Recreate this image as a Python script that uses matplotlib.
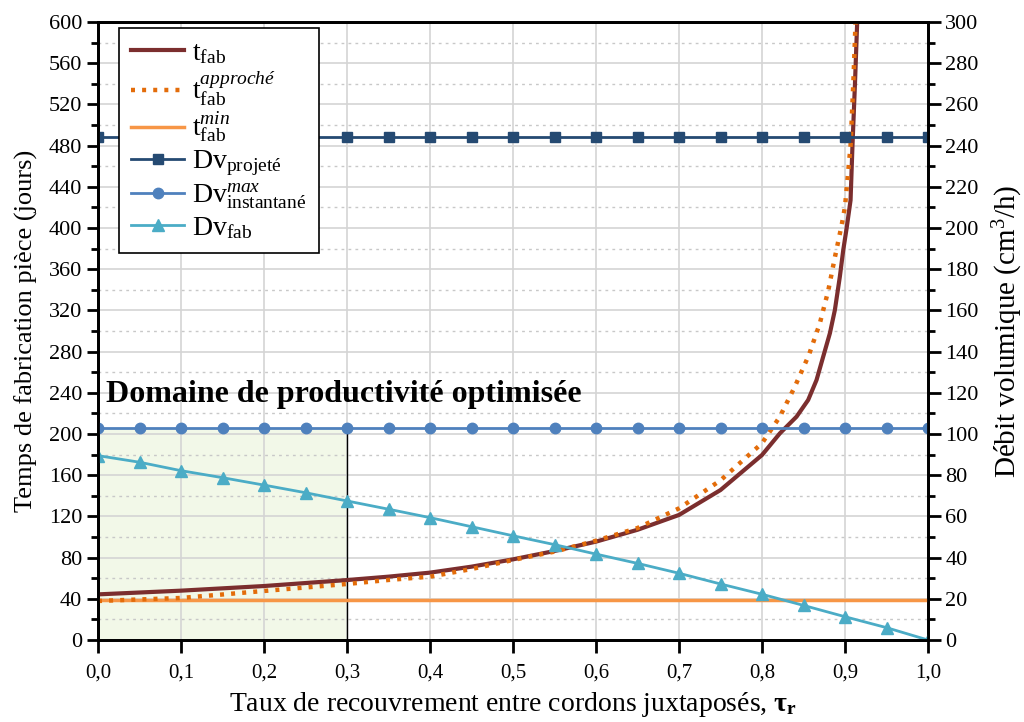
import matplotlib
matplotlib.use("Agg")
import matplotlib.pyplot as plt
from matplotlib.ticker import MultipleLocator, FuncFormatter
from matplotlib.patches import Rectangle

plt.rcParams["font.family"] = ["Liberation Serif", "DejaVu Serif"]
plt.rcParams["mathtext.fontset"] = "custom"
plt.rcParams["mathtext.rm"] = "Liberation Serif"
plt.rcParams["mathtext.it"] = "Liberation Serif:italic"
plt.rcParams["mathtext.bf"] = "Liberation Serif:bold"

# temps de fabrication (jours), axe gauche
tfab_x = [0, 0.1, 0.2, 0.3, 0.35, 0.4, 0.45, 0.5, 0.55, 0.6, 0.65, 0.7, 0.75, 0.8,
          0.8215, 0.8416, 0.8556, 0.8657, 0.8737, 0.8818, 0.8878, 0.8938, 0.8979,
          0.902, 0.9067, 0.909, 0.912, 0.9147]
tfab_y = [44.3, 47.9, 52.4, 58.2, 61.5, 65.4, 71.2, 78.3, 86.4, 95.5, 107, 121.4, 145.6, 179.6,
          200.6, 216.8, 233, 252.4, 275, 297.8, 320.4, 352.8, 378.6,
          400, 427, 480, 540, 600]

tapp_x = [0, 0.1, 0.2, 0.3, 0.35, 0.4, 0.45, 0.5, 0.55, 0.6, 0.65, 0.7, 0.75, 0.8,
          0.8215, 0.8396, 0.8565, 0.8697, 0.8798, 0.8878, 0.896, 0.900, 0.9067, 0.910, 0.9127]
tapp_y = [37.9, 40.8, 47.6, 54.4, 58.3, 61.5, 68.9, 77.7, 85.8, 96.4, 108.7, 127.8, 155, 191,
          216.8, 246, 276.7, 307.5, 339.1, 371.5, 402.9, 420.7, 480, 540, 600]

tmin_x = [0, 1.0]
tmin_y = [38.5, 38.5]

# debits volumiques (cm3/h), axe droit
tau = [0, 0.05, 0.1, 0.15, 0.2, 0.25, 0.3, 0.35, 0.4, 0.45, 0.5,
       0.55, 0.6, 0.65, 0.7, 0.75, 0.8, 0.85, 0.9, 0.95, 1.0]
dv_projete = [244] * 21
dv_max = [103] * 21
dv_fab = [89.5, 86.3, 82.2, 78.8, 75.2, 71.5, 67.5, 63.5, 59.4, 55.0, 50.6,
          46.3, 41.7, 37.2, 32.4, 27.2, 22.2, 16.8, 11.3, 6.0, 0]

domaine_x = 0.3
domaine_y = 206

fig = plt.figure(figsize=(10.24, 7.22), dpi=100)
ax = fig.add_axes([98 / 1024, 1 - 640 / 722, 830 / 1024, 618 / 722])
ax2 = ax.twinx()

ax.set_xlim(0, 1)
ax.set_ylim(0, 600)
ax2.set_ylim(0, 300)

# grille
ax.set_axisbelow(True)
ax.yaxis.set_major_locator(MultipleLocator(40))
ax.yaxis.set_minor_locator(MultipleLocator(20))
ax.xaxis.set_major_locator(MultipleLocator(0.1))
ax.grid(which="major", axis="both", color="#d4d4d4", lw=1.2)
ax.grid(which="minor", axis="y", color="#c8c8c8", lw=1, ls=(0, (2, 3)))

# domaine optimise
ax.add_patch(Rectangle((0, 0), domaine_x, domaine_y, facecolor="#f2f8e8",
                       edgecolor="none", zorder=0.3))
ax.plot([domaine_x, domaine_x], [0, domaine_y], color="black", lw=1, zorder=2)
ax.text(0.01, 238, "Domaine de productivité optimisée", fontsize=23,
        fontweight="bold", va="center", ha="left", zorder=5)

l1, = ax.plot(tfab_x, tfab_y, color="#7b2e2e", lw=3, zorder=4)
l2, = ax.plot(tapp_x, tapp_y, color="#e36c0a", lw=3.2, ls=(0, (0.9, 1.6)), zorder=4)
l3, = ax.plot(tmin_x, tmin_y, color="#f79646", lw=2.5, zorder=3)

l4, = ax2.plot(tau, dv_projete, color="#254a72", lw=2, marker="s", ms=6.5)
l5, = ax2.plot(tau, dv_max, color="#4f81bd", lw=2, marker="o", ms=7.5)
l6, = ax2.plot(tau, dv_fab, color="#4bacc6", lw=2, marker="^", ms=8)

# axes et graduations
for a in (ax, ax2):
    for s in a.spines.values():
        s.set_linewidth(2)
ax.tick_params(axis="y", which="major", length=8, width=2, labelsize=16, direction="out")
ax.tick_params(axis="y", which="minor", length=5, width=2, direction="out")
ax.tick_params(axis="x", which="major", length=9, width=2, labelsize=15, direction="out", pad=8)
ax2.yaxis.set_major_locator(MultipleLocator(20))
ax2.yaxis.set_minor_locator(MultipleLocator(10))
ax2.tick_params(axis="y", which="major", length=9, width=2, labelsize=16, direction="out")
ax2.tick_params(axis="y", which="minor", length=5, width=2, direction="out")
ax.xaxis.set_major_formatter(FuncFormatter(lambda v, p: f"{v:.1f}".replace(".", ",")))

ax.set_ylabel("Temps de fabrication pièce (jours)", fontsize=19, labelpad=8)
ax2.set_ylabel("Débit volumique (cm$^3$/h)", fontsize=21, labelpad=9)
ax.set_xlabel(r"Taux de recouvrement entre cordons juxtaposés, $\mathbf{\tau_r}$",
              fontsize=20, labelpad=5)

labels = [r"$\mathrm{t}_{\mathrm{fab}}$",
          r"$\mathrm{t}_{\mathrm{fab}}^{approché}$",
          r"$\mathrm{t}_{\mathrm{fab}}^{min}$",
          r"$\mathrm{Dv}_{\mathrm{projeté}}$",
          r"$\mathrm{Dv}_{\mathrm{instantané}}^{max}$",
          r"$\mathrm{Dv}_{\mathrm{fab}}$"]
leg = ax2.legend([l1, l2, l3, l4, l5, l6], labels, loc="upper left",
                 bbox_to_anchor=(0.025, 0.99), borderaxespad=0, fontsize=20,
                 handlelength=1.9, handletextpad=0.3, labelspacing=0.12,
                 borderpad=0.45, fancybox=False, framealpha=1, edgecolor="black")
leg.get_frame().set_linewidth(1.2)
leg.set_zorder(10)

fig.savefig("out.png", dpi=100)
